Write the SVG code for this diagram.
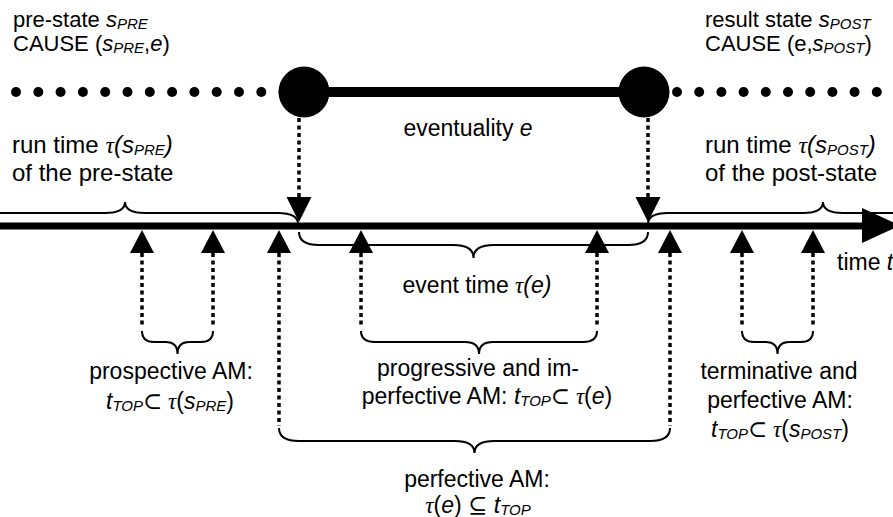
<svg xmlns="http://www.w3.org/2000/svg" width="893" height="517" viewBox="0 0 893 517">
<style>
.t{font-family:"Liberation Sans",Arial,sans-serif;font-size:23px;fill:#000}
.top{font-size:22px}
.run{font-size:24px}
.i{font-style:italic}
.sub{font-size:15px;font-style:italic}
.sym{font-family:"Liberation Serif","DejaVu Serif",serif}
.tau{font-family:"Liberation Serif","DejaVu Serif",serif;font-style:italic}
.brace{fill:none;stroke:#000;stroke-width:2}
.dot{stroke:#000;stroke-width:3.5;stroke-dasharray:4 3.5;fill:none}
.head{fill:#000}
.sdot{fill:#000}
</style>
<rect width="893" height="517" fill="#fff"/>

<g id="pre-state-dots">
<circle class="sdot" cx="16" cy="92" r="5"/><circle class="sdot" cx="38.3" cy="92" r="5"/><circle class="sdot" cx="60.6" cy="92" r="5"/><circle class="sdot" cx="82.9" cy="92" r="5"/><circle class="sdot" cx="105.2" cy="92" r="5"/><circle class="sdot" cx="127.5" cy="92" r="5"/><circle class="sdot" cx="149.8" cy="92" r="5"/><circle class="sdot" cx="172.1" cy="92" r="5"/><circle class="sdot" cx="194.4" cy="92" r="5"/><circle class="sdot" cx="216.7" cy="92" r="5"/><circle class="sdot" cx="239" cy="92" r="5"/><circle class="sdot" cx="261.3" cy="92" r="5"/><circle class="sdot" cx="283.6" cy="92" r="5"/>
</g>
<g id="post-state-dots">
<circle class="sdot" cx="677" cy="92" r="5"/><circle class="sdot" cx="699.2" cy="92" r="5"/><circle class="sdot" cx="721.4" cy="92" r="5"/><circle class="sdot" cx="743.6" cy="92" r="5"/><circle class="sdot" cx="765.8" cy="92" r="5"/><circle class="sdot" cx="788" cy="92" r="5"/><circle class="sdot" cx="810.2" cy="92" r="5"/><circle class="sdot" cx="832.4" cy="92" r="5"/><circle class="sdot" cx="854.6" cy="92" r="5"/><circle class="sdot" cx="876.8" cy="92" r="5"/><circle class="sdot" cx="899" cy="92" r="5"/>
</g>

<g id="eventuality">
<line x1="304" y1="92" x2="644" y2="92" stroke="#000" stroke-width="10"/>
<circle cx="304" cy="92" r="25.5" fill="#000"/>
<circle cx="644" cy="92" r="25.5" fill="#000"/>
</g>

<g id="timeline">
<line x1="0" y1="226" x2="866" y2="226" stroke="#000" stroke-width="7"/>
<polygon class="head" points="862,208 862,243 900,225.5"/>
</g>

<g id="connectors">
<line class="dot" x1="299" y1="118" x2="299" y2="197"/>
<polygon class="head" points="286.5,197 311.5,197 299,222"/>
<line class="dot" x1="648" y1="118" x2="648" y2="197"/>
<polygon class="head" points="635.5,197 660.5,197 648,222"/>

<polygon class="head" points="142,230 154,253 130,253"/><line class="dot" x1="142" y1="253" x2="142" y2="327"/>
<polygon class="head" points="213,230 225,253 201,253"/><line class="dot" x1="213" y1="253" x2="213" y2="327"/>
<polygon class="head" points="279,230 291,253 267,253"/><line class="dot" x1="279" y1="253" x2="279" y2="426"/>
<polygon class="head" points="361,230 373,253 349,253"/><line class="dot" x1="361" y1="253" x2="361" y2="327"/>
<polygon class="head" points="597,230 609,253 585,253"/><line class="dot" x1="597" y1="253" x2="597" y2="327"/>
<polygon class="head" points="670,230 682,253 658,253"/><line class="dot" x1="670" y1="253" x2="670" y2="426"/>
<polygon class="head" points="742,230 754,253 730,253"/><line class="dot" x1="742" y1="253" x2="742" y2="327"/>
<polygon class="head" points="813,230 825,253 801,253"/><line class="dot" x1="813" y1="253" x2="813" y2="327"/>

<path class="brace" d="M -48 224 Q -48 213 -28 213 L 105 213 Q 125 213 125 202 Q 125 213 145 213 L 278 213 Q 298 213 298 224"/>
<path class="brace" d="M 648 224 Q 648 213 668 213 L 803 213 Q 823 213 823 202 Q 823 213 843 213 L 978 213 Q 998 213 998 224"/>
<path class="brace" d="M 299 232 Q 299 245 319 245 L 453.5 245 Q 473.5 245 473.5 258 Q 473.5 245 493.5 245 L 628 245 Q 648 245 648 232"/>
<path class="brace" d="M 142 331 Q 142 342 154 342 L 165.5 342 Q 177.5 342 177.5 354 Q 177.5 342 189.5 342 L 201 342 Q 213 342 213 331"/>
<path class="brace" d="M 361 331 Q 361 342 375 342 L 465 342 Q 479 342 479 354 Q 479 342 493 342 L 583 342 Q 597 342 597 331"/>
<path class="brace" d="M 742 331 Q 742 342 754 342 L 765.5 342 Q 777.5 342 777.5 354 Q 777.5 342 789.5 342 L 801 342 Q 813 342 813 331"/>
<path class="brace" d="M 279 428 Q 279 441 299 441 L 454.5 441 Q 474.5 441 474.5 453 Q 474.5 441 494.5 441 L 650 441 Q 670 441 670 428"/>
</g>

<g id="label-pre-state">
<text class="t top" x="13" y="27">pre-state <tspan class="i">s</tspan><tspan class="sub" dy="2">PRE</tspan></text>
<text class="t top" x="13" y="51">CAUSE (<tspan class="i">s</tspan><tspan class="sub" dy="2">PRE</tspan><tspan dy="-2">,</tspan><tspan class="i">e</tspan>)</text>
</g>
<g id="label-result-state">
<text class="t top" x="705" y="27">result state <tspan class="i">s</tspan><tspan class="sub" dy="2">POST</tspan></text>
<text class="t top" x="705" y="51">CAUSE (e,<tspan class="i">s</tspan><tspan class="sub" dy="2">POST</tspan><tspan dy="-2">)</tspan></text>
</g>
<g id="label-eventuality">
<text class="t" x="468" y="136" text-anchor="middle">eventuality <tspan class="i">e</tspan></text>
</g>
<g id="label-run-pre">
<text class="t run" x="12" y="153">run time <tspan class="tau">τ</tspan><tspan class="i">(s</tspan><tspan class="sub" dy="2">PRE</tspan><tspan class="i" dy="-2">)</tspan></text>
<text class="t run" x="12" y="181">of the pre-state</text>
</g>
<g id="label-run-post">
<text class="t run" x="705" y="153">run time <tspan class="tau">τ</tspan><tspan class="i">(s</tspan><tspan class="sub" dy="2">POST</tspan><tspan class="i" dy="-2">)</tspan></text>
<text class="t run" x="705" y="181">of the post-state</text>
</g>
<g id="label-time">
<text class="t" x="837" y="270">time <tspan class="i">t</tspan></text>
</g>
<g id="label-event-time">
<text class="t" x="477" y="293" text-anchor="middle">event time <tspan class="tau">τ</tspan><tspan class="i">(e)</tspan></text>
</g>
<g id="label-prospective">
<text class="t" x="171" y="379" text-anchor="middle">prospective AM:</text>
<text class="t" x="170" y="409" text-anchor="middle"><tspan class="i">t</tspan><tspan class="sub" dy="2">TOP</tspan><tspan dy="-2" class="sym">⊂ </tspan><tspan class="tau">τ</tspan>(<tspan class="i">s</tspan><tspan class="sub" dy="2">PRE</tspan><tspan dy="-2">)</tspan></text>
</g>
<g id="label-progressive">
<text class="t" x="478" y="376" text-anchor="middle">progressive and im-</text>
<text class="t" x="487" y="404" text-anchor="middle">perfective AM: <tspan class="i">t</tspan><tspan class="sub" dy="2">TOP</tspan><tspan dy="-2" class="sym">⊂ </tspan><tspan class="tau">τ</tspan>(<tspan class="i">e</tspan>)</text>
</g>
<g id="label-terminative">
<text class="t" x="779" y="379" text-anchor="middle">terminative and</text>
<text class="t" x="780" y="408" text-anchor="middle">perfective AM:</text>
<text class="t" x="780" y="437" text-anchor="middle"><tspan class="i">t</tspan><tspan class="sub" dy="2">TOP</tspan><tspan dy="-2" class="sym">⊂ </tspan><tspan class="tau">τ</tspan>(<tspan class="i">s</tspan><tspan class="sub" dy="2">POST</tspan><tspan dy="-2">)</tspan></text>
</g>
<g id="label-perfective">
<text class="t" x="477" y="487" text-anchor="middle">perfective AM:</text>
<text class="t" x="478" y="513" text-anchor="middle"><tspan class="tau">τ</tspan>(<tspan class="i">e</tspan>) <tspan class="sym">⊆</tspan> <tspan class="i">t</tspan><tspan class="sub" dy="2">TOP</tspan></text>
</g>
</svg>
